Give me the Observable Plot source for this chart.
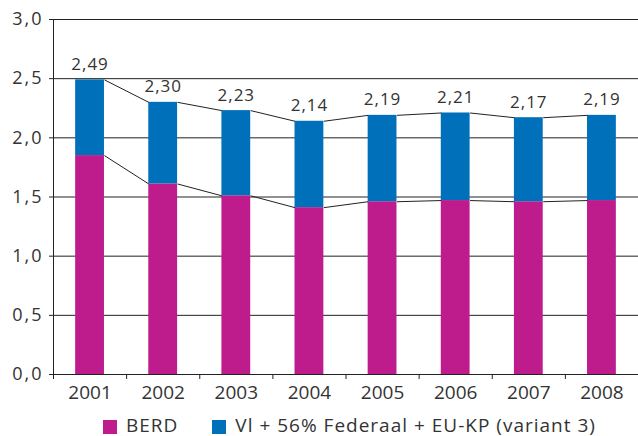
<!DOCTYPE html>
<html>
<head>
<meta charset="utf-8">
<script src="https://cdn.jsdelivr.net/npm/d3@7"></script>
<script src="https://cdn.jsdelivr.net/npm/@observablehq/plot@0.6"></script>
<style>
  html, body { margin: 0; padding: 0; background: #fff; overflow: hidden; }
  #wrap { position: relative; width: 638px; height: 436px; font-family: "Open Sans", sans-serif; color: #333; }
  #legend { position: absolute; left: 103px; top: 416px; display: flex; align-items: center; font-size: 19px; line-height: 19px; white-space: nowrap; letter-spacing: 1px; }
  #legend .sw { width: 14px; height: 14px; display: inline-block; margin-right: 9px; position: relative; top: 1px; }
  #legend .item { display: flex; align-items: center; margin-right: 34px; }
  svg g[aria-label="y-axis tick label"] { font-size: 18px; letter-spacing: 2px; }
  svg g[aria-label="x-axis tick label"] { font-size: 19px; }
  svg g[aria-label="text"] { font-size: 17px; letter-spacing: 1px; }
</style>
</head>
<body>
<div id="wrap">
  <div id="chart"></div>
  <div id="legend"></div>
</div>
<script>
// Data
const years = [2001, 2002, 2003, 2004, 2005, 2006, 2007, 2008];
const berd = [1.85, 1.61, 1.51, 1.41, 1.46, 1.47, 1.46, 1.47];
const totals = [2.49, 2.30, 2.23, 2.14, 2.19, 2.21, 2.17, 2.19];
const seriesNames = ["BERD", "Vl + 56% Federaal + EU-KP (variant 3)"];
const seriesColors = ["#be1b8c", "#0070ba"];
const yTicks = [0, 0.5, 1.0, 1.5, 2.0, 2.5, 3.0];

const hw = 0.197; // half bar width in category units
const comma = (d, n) => d.toFixed(n).replace(".", ",");

const rows = years.map((y, i) => ({year: y, berd: berd[i], total: totals[i]}));
const segs = rows.slice(0, -1).map((r, i) => ({a: r, b: rows[i + 1]}));
const boundaries = years.map(y => y - 0.5).concat([years[years.length - 1] + 0.5]);

const chart = Plot.plot({
  width: 638,
  height: 410,
  marginLeft: 53,
  marginRight: 0,
  marginTop: 19,
  marginBottom: 36,
  style: {fontFamily: "Open Sans, sans-serif", fontSize: "19px", color: "#333", background: "#fff", overflow: "visible"},
  x: {type: "linear", domain: [years[0] - 0.5, years[years.length - 1] + 0.5]},
  y: {domain: [0, 3.0]},
  marks: [
    Plot.ruleY(yTicks, {stroke: "#222", strokeWidth: 1}),
    Plot.rectY(rows, {x1: d => d.year - hw, x2: d => d.year + hw, y1: 0, y2: "berd", fill: seriesColors[0]}),
    Plot.rectY(rows, {x1: d => d.year - hw, x2: d => d.year + hw, y1: "berd", y2: "total", fill: seriesColors[1]}),
    Plot.link(segs, {x1: d => d.a.year + hw, y1: d => d.a.total, x2: d => d.b.year - hw, y2: d => d.b.total, stroke: "#222", strokeWidth: 1}),
    Plot.link(segs, {x1: d => d.a.year + hw, y1: d => d.a.berd, x2: d => d.b.year - hw, y2: d => d.b.berd, stroke: "#222", strokeWidth: 1}),
    Plot.ruleX([years[0] - 0.5], {y1: 0, y2: 3.0, stroke: "#222", strokeWidth: 1}),
    Plot.text(rows, {x: "year", y: "total", text: d => comma(d.total, 2), dy: -10, lineAnchor: "bottom", fontSize: 17, fill: "#333"}),
    Plot.axisY({ticks: yTicks, tickSize: 4, tickPadding: 6, tickFormat: d => comma(d, 1), fontSize: 18, stroke: "#222", label: null}),
    Plot.axisX({ticks: boundaries, tickSize: 5, tickFormat: () => "", stroke: "#222", label: null}),
    Plot.axisX({ticks: years, tickSize: 0, tickPadding: 11, tickFormat: d => String(d), fontSize: 19, label: null})
  ]
});
document.getElementById("chart").appendChild(chart);

const legend = document.getElementById("legend");
seriesNames.forEach((name, i) => {
  const item = document.createElement("span");
  item.className = "item";
  const sw = document.createElement("span");
  sw.className = "sw";
  sw.style.background = seriesColors[i];
  item.appendChild(sw);
  item.appendChild(document.createTextNode(name));
  legend.appendChild(item);
});
</script>
</body>
</html>
